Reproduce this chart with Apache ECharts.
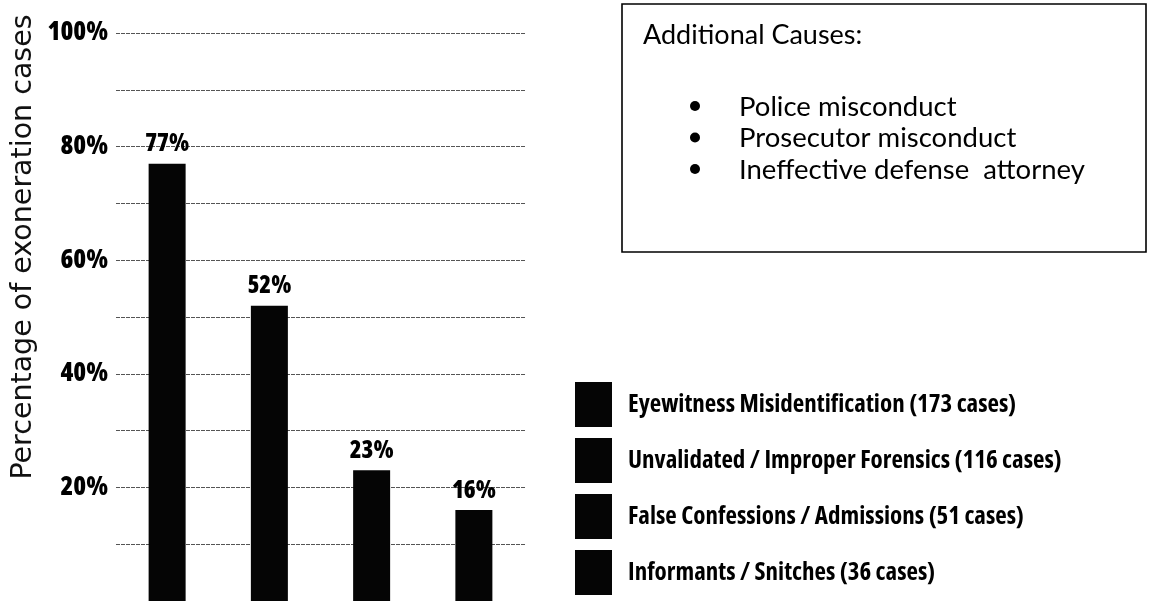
<!DOCTYPE html>
<html>
<head>
<meta charset="utf-8">
<script src="https://cdn.jsdelivr.net/npm/echarts@6/dist/echarts.min.js"></script>
<style>
html,body{margin:0;padding:0;background:#fff;}
#chart{width:1149px;height:601px;}
</style>
</head>
<body>
<div id="chart"></div>
<script>
// ---- data ----
const categories = [
  'Eyewitness Misidentification (173 cases)',
  'Unvalidated / Improper Forensics (116 cases)',
  'False Confessions / Admissions (51 cases)',
  'Informants / Snitches (36 cases)'
];
const values = [77, 52, 23, 16];
const yTickValues = [20, 40, 60, 80, 100];
const yAxisTitle = 'Percentage of exoneration cases';
const boxTitle = 'Additional Causes:';
const boxItems = ['Police misconduct', 'Prosecutor misconduct', 'Ineffective defense  attorney'];

const condFamily = '"Open Sans", sans-serif';

const series = categories.map((name, i) => ({
  name: name,
  type: 'bar',
  stack: 'all',
  barWidth: 37,
  itemStyle: { color: '#050505' },
  label: {
    show: true,
    position: 'top',
    distance: 7,
    formatter: '{c}%',
    fontFamily: condFamily,
    fontWeight: '800 condensed',
    fontSize: 24,
    color: '#000'
  },
  data: values.map((v, j) => (j === i ? v : '-'))
}));

const graphics = [
  {
    type: 'text',
    x: 24, y: 247,
    rotation: Math.PI / 2,
    style: {
      text: yAxisTitle,
      fontFamily: '"DejaVu Sans", sans-serif',
      fontSize: 28.5,
      fill: '#111',
      align: 'center',
      verticalAlign: 'middle'
    }
  },
  {
    type: 'rect',
    shape: { x: 622, y: 4, width: 524, height: 248 },
    style: { fill: 'none', stroke: '#000', lineWidth: 1.6 }
  },
  {
    type: 'text',
    x: 643, y: 22,
    style: {
      text: boxTitle,
      fontFamily: 'Lato, sans-serif',
      fontSize: 27,
      fill: '#000',
      align: 'left',
      verticalAlign: 'top'
    }
  }
];
boxItems.forEach((t, i) => {
  const baseY = 115 + i * 31.5;
  graphics.push({
    type: 'circle',
    shape: { cx: 695, cy: baseY - 9, r: 5 },
    style: { fill: '#000' }
  });
  graphics.push({
    type: 'text',
    x: 739, y: baseY - 22,
    style: {
      text: t,
      fontFamily: 'Lato, sans-serif',
      fontSize: 27.5,
      fill: '#000',
      align: 'left',
      verticalAlign: 'top'
    }
  });
});

const chart = echarts.init(document.getElementById('chart'), null, { renderer: 'canvas' });
chart.setOption({
  animation: false,
  backgroundColor: '#fff',
  grid: { left: 116, right: 624, top: 33, bottom: 0, containLabel: false },
  xAxis: {
    type: 'category',
    data: categories,
    axisLine: { show: false },
    axisTick: { show: false },
    axisLabel: { show: false },
    splitLine: { show: false }
  },
  yAxis: {
    type: 'value',
    min: 0,
    max: 100,
    interval: 10,
    axisLine: { show: false },
    axisTick: { show: false },
    axisLabel: {
      margin: 8,
      fontFamily: condFamily,
      fontWeight: '800 condensed',
      fontSize: 26,
      color: '#000',
      formatter: v => (yTickValues.indexOf(v) >= 0 ? v + '%' : '')
    },
    splitLine: { show: true, lineStyle: { color: '#555', width: 1, type: [4, 1] } }
  },
  legend: {
    orient: 'vertical',
    left: 575,
    top: 382,
    padding: 0,
    itemWidth: 37,
    itemHeight: 45,
    itemGap: 11,
    icon: 'rect',
    selectedMode: false,
    textStyle: {
      fontFamily: condFamily,
      fontWeight: 'bold condensed',
      fontSize: 25,
      color: '#000',
      padding: [0, 0, 0, 11]
    },
    data: categories
  },
  series: series,
  graphic: graphics
});
</script>
</body>
</html>
